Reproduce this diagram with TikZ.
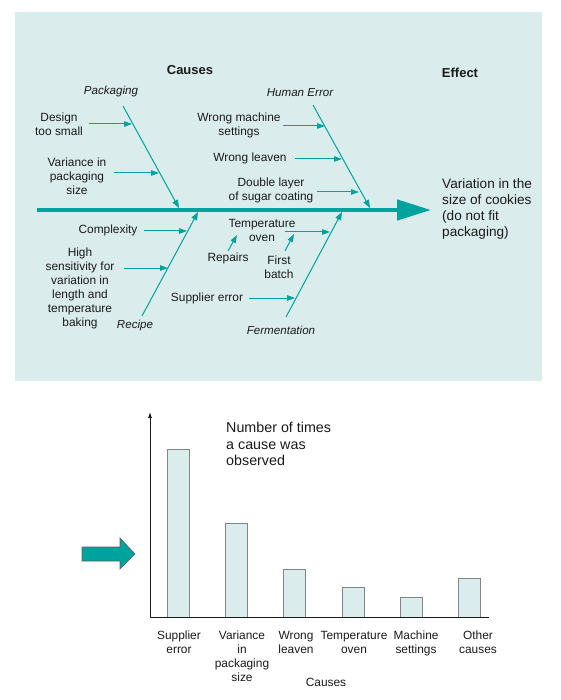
\documentclass[tikz,border=0pt]{standalone}
\usepackage{fontspec}
\setmainfont{Liberation Sans}
\usetikzlibrary{arrows.meta,calc,positioning}
\definecolor{fbpanel}{HTML}{DAEDEC}
\definecolor{fbteal}{HTML}{00A29E}
\definecolor{fbink}{HTML}{1A1A1A}
\definecolor{fbbar}{HTML}{808585}
\tikzset{
  causetext/.style={align=center,inner sep=0pt,font=\fontsize{11.9}{14}\selectfont,text=fbink},
  bonetext/.style={inner sep=0pt,font=\fontsize{11.6}{14}\selectfont\itshape,text=fbink},
  headtext/.style={inner sep=0pt,font=\fontsize{13}{16}\selectfont\bfseries,text=fbink},
  bigtext/.style={align=left,inner sep=0pt,font=\fontsize{13.6}{16}\selectfont,text=fbink},
  bone/.style={draw=fbteal,line width=1pt,-{Triangle[length=8pt,width=6pt]}},
  causearrow/.style={draw=fbteal,line width=1pt,-{Triangle[length=8pt,width=5.5pt]}},
  spine/.style={draw=fbteal,line width=4.5pt,-{Triangle[length=34pt,width=20pt]}},
  chartbar/.style={draw=fbbar,fill=fbpanel,line width=0.9pt},
  chartaxis/.style={draw=fbink,line width=0.8pt},
}
\begin{document}
\begin{tikzpicture}[x=1pt,y=-1pt]
        \path[use as bounding box] (0,0) rectangle (561,700);
        \fill[fbpanel] (15,12) rectangle (542,381);
        % headings
        \node[headtext] (causes) at (190,70) {Causes};
        \node[headtext] (effect) at (460,73) {Effect};
        \node[bigtext,anchor=west] (variation) at (442,209) {Variation in the\\size of cookies\\(do not fit\\packaging)};
        % spine and bones
        \coordinate (tail) at (37,210);
        \coordinate (head) at (431,210);
        \draw[spine] (tail) -- (head);
        \node[bonetext] (packaging) at (111,92) {Packaging};
        \node[bonetext] (human) at (300,93) {Human Error};
        \node[bonetext] (recipe) at (135,325) {Recipe};
        \node[bonetext] (fermentation) at (281,330) {Fermentation};
        \coordinate (pk1) at (123,106); \coordinate (pk2) at (179,208);
        \coordinate (he1) at (313,105); \coordinate (he2) at (370,208);
        \coordinate (re1) at (142,316); \coordinate (re2) at (198,212);
        \coordinate (fe1) at (286,317); \coordinate (fe2) at (342,212);
        \foreach \a/\b in {pk1/pk2,he1/he2,re1/re2,fe1/fe2}
          {\draw[bone] (\a) -- (\b);}
        % causes
        \node[causetext] (design) at (59,124) {Design\\too small};
        \node[causetext] (variance) at (77,176) {Variance in\\packaging\\size};
        \node[causetext] (machine) at (239,125) {Wrong machine\\settings};
        \node[causetext] (leaven) at (250,158) {Wrong leaven};
        \node[causetext] (double) at (271,190) {Double layer\\of sugar coating};
        \node[causetext] (complexity) at (108,230) {Complexity};
        \node[causetext] (sensitivity) at (80,288) {High\\sensitivity for\\variation in\\length and\\temperature\\baking};
        \node[causetext] (temperature) at (262,230) {Temperature\\oven};
        \node[causetext] (repairs) at (228,258) {Repairs};
        \node[causetext] (batch) at (279,267) {First\\batch};
        \node[causetext] (supplier) at (207,298) {Supplier error};
        \coordinate (c1) at (132,124); \coordinate (c2) at (159,173);
        \coordinate (c3) at (325,126); \coordinate (c4) at (342,159);
        \coordinate (c5) at (359,192); \coordinate (c6) at (187,231);
        \coordinate (c7) at (168,268); \coordinate (c8) at (330,232);
        \coordinate (c9) at (295,298);
        \draw[causearrow] (89,124) -- (c1);
        \draw[causearrow] (114,173) -- (c2);
        \draw[causearrow] (283,126) -- (c3);
        \draw[causearrow] (295,159) -- (c4);
        \draw[causearrow] (317,192) -- (c5);
        \draw[causearrow] (144,231) -- (c6);
        \draw[causearrow] (124,268) -- (c7);
        \draw[causearrow] (285,232) -- (c8);
        \draw[causearrow] (249,298) -- (c9);
        \draw[causearrow] (228,251) -- (237,235);
        \draw[causearrow] (285,251) -- (294,234);
        % chart
        \coordinate (origin) at (150,617);
        \coordinate (ytop) at (150,412);
        \coordinate (xend) at (489,617);
        \foreach \x/\t in {167/449,225/523,283/569,342/587,400/597,458/578}
          {\draw[chartbar] (\x,617) rectangle (\x+22,\t);}
        \draw[chartaxis,-{Latex[length=6pt,width=4pt]}] (origin) -- (ytop);
        \draw[chartaxis] (origin) -- (xend);
        \node[bigtext,anchor=west,font=\fontsize{14.3}{16.5}\selectfont] (observed) at (226,444) {Number of times\\a cause was\\observed};
        \foreach \x/\lab in {179/{Supplier\\error},242/{Variance\\in\\packaging\\size},296/{Wrong\\leaven},354/{Temperature\\oven},416/{Machine\\settings},478/{Other\\causes}}
          {\node[causetext,anchor=north] at (\x,631) {\lab};}
        \node[causetext] (axiscauses) at (326,682) {Causes};
        \draw[fill=fbteal,draw=fbink!70,line width=0.6pt] (82,547) -- (120,547) -- (120,538) -- (135,554)
          -- (120,569) -- (120,561) -- (82,561) -- cycle;
      \end{tikzpicture}
\end{document}
